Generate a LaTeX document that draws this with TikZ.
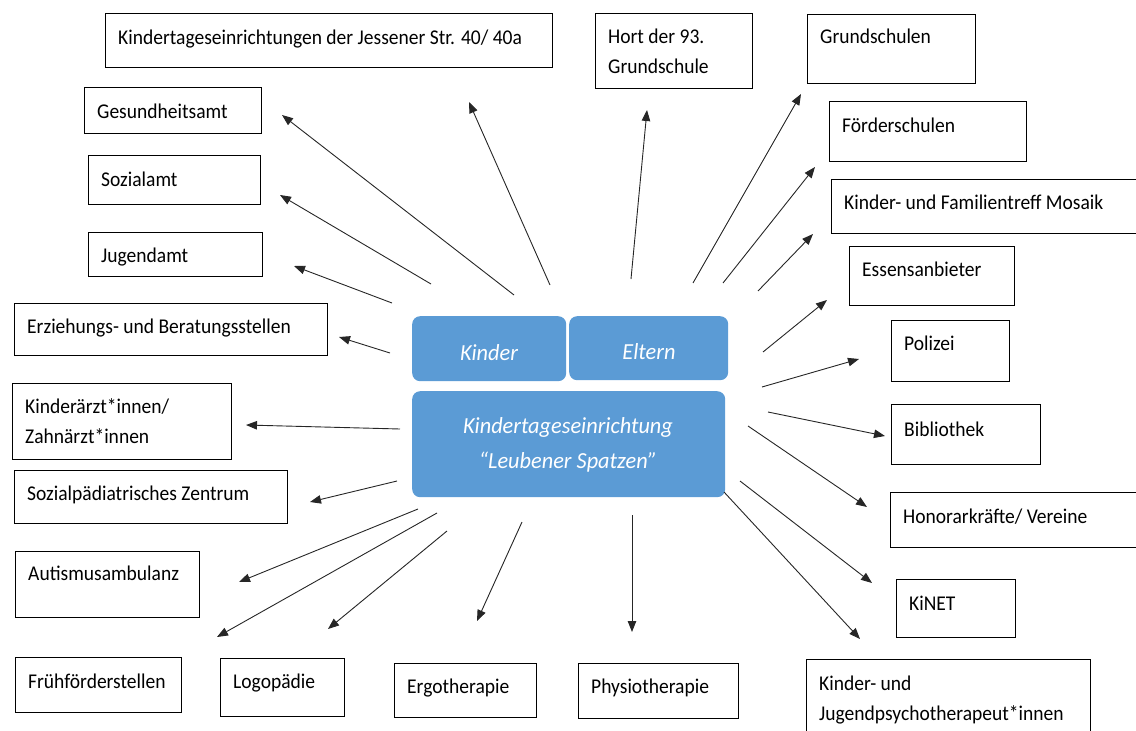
\documentclass[tikz,border=0pt]{standalone}
\usepackage{fontspec}
\setmainfont{Carlito}[FakeStretch=0.93]
\newfontfamily\hubfont{Carlito}[FakeStretch=0.97]
\usetikzlibrary{arrows.meta}
\definecolor{kitablue}{HTML}{5B9BD5}
\tikzset{
  partner/.style={draw, line width=1.1pt, anchor=north west, inner sep=0pt},
  partner text/.style={anchor=base west, align=left, inner sep=0pt, font=\fontsize{21}{30}\selectfont},
  hub/.style={fill=kitablue, rounded corners=8pt, anchor=north west, inner sep=0pt},
  hub text/.style={text=white, align=center, inner sep=0pt, font=\hubfont\fontsize{23}{35}\selectfont\itshape},
  link/.style={-{Triangle[length=11pt,width=8.5pt]}, line width=0.9pt, draw=black!85},
}
\begin{document}
\begin{tikzpicture}[x=1pt, y=-1pt]
  \useasboundingbox (0,0) rectangle (1136,731);
  % centre
  \node[hub, minimum width=154, minimum height=65] (kinder) at (412,316) {};
  \node[hub, minimum width=159, minimum height=64] (eltern) at (569,316) {};
  \node[hub, minimum width=313, minimum height=106] (kita) at (412,391) {};
  \node[hub text, anchor=base] (kinder-txt) at (489,360) {Kinder};
  \node[hub text, anchor=base] (eltern-txt) at (649,359) {Eltern};
  \node[hub text, anchor=base] (kita-txt) at (568,468) {Kindertageseinrichtung\\“Leubener Spatzen”};
  % partners (last number: baseline of the last line)
  \foreach \n/\x/\y/\w/\h/\b/\t in {
      jessener/105/13/447/54/31/{Kindertageseinrichtungen der Jessener Str. 40/ 40a},
      gesundheit/84/87/177/46/31/Gesundheitsamt,
      sozial/88/155/172/49/31/Sozialamt,
      jugend/88/232/174/44/30/Jugendamt,
      erziehung/14/303/313/52/30/{Erziehungs- und Beratungsstellen},
      aerzte/12/383/219/76/60/{Kinderärzt*innen/\\Zahnärzt*innen},
      spz/14/470/273/53/30/{Sozialpädiatrisches Zentrum},
      autismus/15/551/184/66/29/Autismusambulanz,
      fruehfoerder/15/657/166/55/31/Frühförderstellen,
      logo/220/658/124/58/30/Logopädie,
      ergo/394/663/142/54/30/Ergotherapie,
      physio/578/663/160/55/30/Physiotherapie,
      psycho/806/659/284/90/61/{Kinder- und\\Jugendpsychotherapeut*innen},
      kinet/896/579/119/58/31/KiNET,
      honorar/890/492/260/55/31/{Honorarkräfte/ Vereine},
      biblio/891/404/149/60/32/Bibliothek,
      polizei/891/320/118/61/30/Polizei,
      essen/849/246/165/59/30/Essensanbieter,
      mosaik/831/179/320/54/30/{Kinder- und Familientreff Mosaik},
      foerder/829/101/197/60/31/Förderschulen,
      grund/807/14/168/69/29/Grundschulen,
      hort/595/13/157/75/60/{Hort der 93.\\Grundschule}} {
    \node[partner, minimum width=\w, minimum height=\h] (\n) at (\x,\y) {};
    \node[partner text] (\n-txt) at ([shift={(13,\b)}]\n.north west) {\t};
  }
  % arrows
  \foreach \n/\sx/\sy/\ex/\ey in {
      hort/631/279/647/110, grund/693/283/801/94, foerder/723/283/815/167,
      mosaik/758/291/813/234, essen/763/352/827/300, polizei/762/387/859/359,
      biblio/768/412/885/436, honorar/748/426/867/507, kinet/740/481/872/583,
      psycho/724/492/860/639, physio/632/515/632/632, ergo/522/522/477/621,
      logo/447/531/328/629, fruehfoerder/437/513/217/637, autismus/418/509/239/582,
      spz/397/481/310/502, aerzte/400/429/246/425, erziehung/390/353/339/337,
      jugend/392/303/294/266, sozial/431/284/280/195, gesundheit/514/295/282/115,
      jessener/550/285/469/102} {
    \coordinate (\n-from) at (\sx,\sy);
    \coordinate (\n-to) at (\ex,\ey);
    \draw[link] (\n-from) -- (\n-to);
  }
\end{tikzpicture}
\end{document}
